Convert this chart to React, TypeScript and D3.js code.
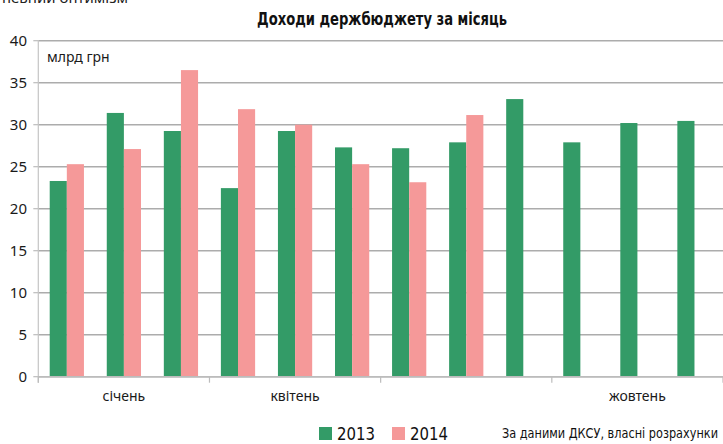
import React from 'react';
import * as d3 from 'd3';

const months = ['01', '02', '03', '04', '05', '06', '07', '08', '09', '10', '11', '12'];
const revenue2013 = [23.3, 31.4, 29.25, 22.45, 29.25, 27.3, 27.2, 27.9, 33.05, 27.9, 30.2, 30.45];
const revenue2014 = [25.3, 27.1, 36.5, 31.85, 30.0, 25.3, 23.15, 31.15, null, null, null, null];
const quarterLabels = ['січень', 'квітень', '', 'жовтень'];
const yTicks = [0, 5, 10, 15, 20, 25, 30, 35, 40];
const seriesNames = ['2013', '2014'];
const seriesColors = ['#339b67', '#f59999'];

const W = 723;
const H = 444;
const margin = { top: 40.7, right: 0, bottom: 67.3, left: 38.3 };
const narrow = '"DejaVu Sans Condensed", "Liberation Sans Narrow", "Roboto", sans-serif';
const sans = '"Noto Sans", "Open Sans", sans-serif';

const App = () => {
  const x = d3.scaleBand<string>()
    .domain(months)
    .range([margin.left, W - margin.right])
    .paddingInner(0.4)
    .paddingOuter(0.2);

  const xSub = d3.scaleBand<string>()
    .domain(seriesNames)
    .range([0, x.bandwidth()]);

  const quarters = d3.scaleBand<number>()
    .domain([0, 1, 2, 3])
    .range([margin.left, W - margin.right]);

  const y = d3.scaleLinear()
    .domain([0, 40])
    .range([H - margin.bottom, margin.top]);

  const rows = months.map((m, i) => ({ m, values: [revenue2013[i], revenue2014[i]] }));
  const quarterEdges = [...quarters.domain().map(q => quarters(q)!), W - margin.right];

  return (
    <div style={{ position: 'absolute', left: 0, top: 0 }}>
      <svg width={W} height={H} style={{ display: 'block', background: '#fff' }}>
        {/* cut-off text from the page above */}
        <text x={2} y={2.5} fontFamily={sans} fontSize={14} fill="#222" textLength={126} lengthAdjust="spacingAndGlyphs">певний оптимізм</text>

        <text x={257} y={25} fontFamily={narrow} fontWeight="bold" fontSize={17} fill="#111"
          textLength={250} lengthAdjust="spacingAndGlyphs">
          Доходи держбюджету за місяць
        </text>

        {/* grid lines */}
        {yTicks.map(t => (
          <g key={t}>
            <line x1={margin.left} x2={W} y1={y(t)} y2={y(t)} stroke="#acacac" strokeWidth={1.6} />
            <line x1={margin.left - 5} x2={margin.left} y1={y(t)} y2={y(t)} stroke="#bcbcbc" strokeWidth={1.2} />
            <text x={27} y={y(t) + 5} textAnchor="end" fontFamily={sans} fontSize={15} fill="#1a1a1a">{t}</text>
          </g>
        ))}
        <line x1={margin.left} x2={margin.left} y1={margin.top} y2={y(0) + 6} stroke="#c4c4c4" strokeWidth={1.2} />

        <text x={47} y={62} fontFamily={sans} fontSize={14} fill="#1a1a1a">млрд грн</text>

        {/* bars */}
        {rows.map(r => (
          <g key={r.m} transform={`translate(${x(r.m)},0)`}>
            {r.values.map((v, j) => v == null ? null : (
              <rect key={j} x={xSub(seriesNames[j])} y={y(v)} width={xSub.bandwidth()}
                height={y(0) - y(v)} fill={seriesColors[j]} />
            ))}
          </g>
        ))}

        {/* category axis */}
        <line x1={margin.left} x2={W} y1={y(0)} y2={y(0)} stroke="#bcbcbc" strokeWidth={1.6} />
        {quarterEdges.map((e, i) => (
          <line key={i} x1={e} x2={e} y1={y(0)} y2={y(0) + 6} stroke="#bcbcbc" strokeWidth={1.2} />
        ))}
        {quarterLabels.map((l, i) => (
          <text key={i} x={quarters(i)! + quarters.bandwidth() / 2} y={401}
            textAnchor="middle" fontFamily={sans} fontSize={14} fill="#1a1a1a">{l}</text>
        ))}

        {/* legend */}
        {seriesNames.map((s, i) => (
          <g key={s} transform={`translate(${319 + i * 73},427)`}>
            <rect x={0} y={0} width={13} height={13} fill={seriesColors[i]} />
            <text x={18} y={13} fontFamily={narrow} fontSize={18} fill="#111"
              textLength={38} lengthAdjust="spacingAndGlyphs">{s}</text>
          </g>
        ))}

        <text x={718} y={438} textAnchor="end" fontFamily={narrow} fontSize={13.5} fill="#111"
          textLength={216} lengthAdjust="spacingAndGlyphs">За даними ДКСУ, власні розрахунки</text>
      </svg>
    </div>
  );
};

export default App;
